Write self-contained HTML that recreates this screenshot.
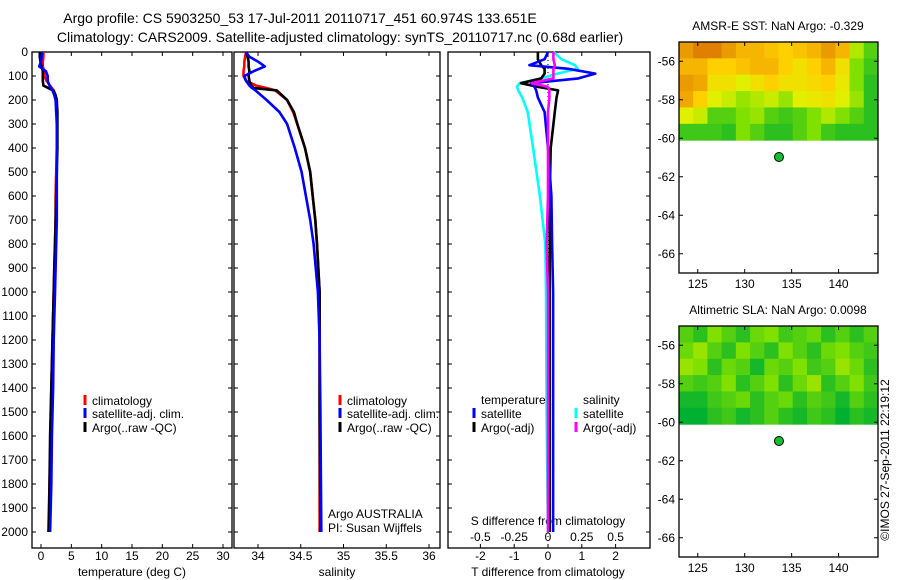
<!DOCTYPE html>
<html><head><meta charset="utf-8"><style>
html,body{margin:0;padding:0;background:#fff;}
svg{display:block;font-family:"Liberation Sans",sans-serif;}
text{fill:#000;}
</style></head><body>
<svg id="chart" width="900" height="580" viewBox="0 0 900 580" xmlns="http://www.w3.org/2000/svg">
<text x="300" y="23" font-size="14" text-anchor="middle">Argo profile: CS 5903250_53 17-Jul-2011 20110717_451 60.974S 133.651E</text>
<text x="340" y="42" font-size="14" text-anchor="middle">Climatology: CARS2009. Satellite-adjusted climatology: synTS_20110717.nc (0.68d earlier)</text>
<text transform="translate(889,460) rotate(-90)" font-size="12" text-anchor="middle">©IMOS 27-Sep-2011 22:19:12</text>
<g id="plots"></g>
</svg>
<script>
// ---------- data ----------
const tDepth = [0,20,40,60,80,100,120,140,160,180,200,250,300,400,500,600,700,800,900,1000,1200,1400,1600,1800,2000];
const tClim = [0.4,0.4,0.3,0.3,0.5,0.6,0.9,1.5,2.1,2.4,2.5,2.6,2.6,2.6,2.5,2.4,2.4,2.3,2.2,2.1,1.9,1.7,1.6,1.4,1.2];
const tSat = [0.2,0.1,0.0,-0.3,0.8,1.1,1.1,1.4,1.9,2.2,2.4,2.5,2.6,2.6,2.6,2.6,2.6,2.5,2.4,2.3,2.1,2.0,1.8,1.7,1.5];
const tArgo = [-0.2,-0.2,-0.1,0.1,0.3,0.3,0.3,0.4,2.0,2.4,2.6,2.7,2.7,2.7,2.6,2.5,2.4,2.3,2.2,2.1,1.9,1.7,1.5,1.4,1.3];
const sDepth = [0,20,40,60,80,100,120,140,150,160,200,250,300,400,500,600,700,800,1000,1200,1500,2000];
const sClim = [33.86,33.85,33.84,33.84,33.83,33.83,33.86,33.98,34.1,34.2,34.34,34.41,34.46,34.55,34.61,34.64,34.67,34.69,34.72,34.72,34.72,34.72];
const sSat = [33.86,33.9,34.0,34.08,33.95,33.84,33.86,33.9,33.93,33.97,34.1,34.25,34.34,34.43,34.51,34.56,34.61,34.65,34.70,34.72,34.73,34.74];
const sArgo = [33.86,33.88,33.89,33.89,33.9,33.89,33.9,33.92,33.95,34.22,34.34,34.42,34.46,34.55,34.61,34.64,34.67,34.69,34.72,34.72,34.72,34.73];
const dDepth = [0,30,55,70,90,110,130,145,160,190,250,400,600,800,1000,1500,2000];
const dTSat = [0,-0.1,-0.55,0.6,1.4,0.9,-0.5,-0.4,-0.35,-0.3,-0.1,0,0.1,0.12,0.15,0.15,0.15];
const dTArgo = [-0.3,-0.3,-0.2,-0.1,-0.1,-0.2,-0.8,-0.3,0.3,0.25,0.2,0.08,0.05,0.05,0.05,0.05,0.05];
const dSSat = [0.04,0.1,0.2,0.22,0.07,-0.05,-0.21,-0.23,-0.22,-0.19,-0.15,-0.11,-0.06,-0.02,-0.015,-0.01,0.0];
const dSArgo = [0.04,0.04,0.05,0.04,0.04,0.04,-0.12,0.0,0.01,0.01,0.0,0.0,0.0,-0.01,0.0,0.0,0.0];
const depthTicks = [0,100,200,300,400,500,600,700,800,900,1000,1100,1200,1300,1400,1500,1600,1700,1800,1900,2000];
const tempTicks = [0,5,10,15,20,25,30];
const salTicks = [34,34.5,35,35.5,36];
const salTickLabels = ["34","34.5","35","35.5","36"];
const tdTicks = [-2,-1,0,1,2];
const sdTicks = [-0.5,-0.25,0,0.25,0.5];
const sdTickLabels = ["-0.5","-0.25","0","0.25","0.5"];
const latTicks = [-56,-58,-60,-62,-64,-66];
const lonTicks = [125,130,135,140];
const argoLon = 133.651, argoLat = -60.974;
const sstGrid = [
[0.9,1,1,0.9,0.8,0.8,0.75,0.7,0.75,0.8,0.9,0.8,0.4,0.2],
[0.8,0.8,0.7,0.7,0.75,0.8,0.8,0.7,0.6,0.7,0.8,0.6,0.3,0.15],
[0.9,0.85,0.6,0.6,0.5,0.6,0.7,0.6,0.6,0.65,0.7,0.55,0.3,0.1],
[0.85,0.7,0.5,0.45,0.35,0.4,0.45,0.35,0.5,0.55,0.6,0.5,0.35,0.1],
[0.5,0.45,0.2,0.2,0.3,0.35,0.2,0.15,0.2,0.3,0.4,0.3,0.2,0.1],
[0.15,0.15,0.15,0.1,0.3,0.2,0.1,0.1,0.2,0.3,0.15,0.1,0.1,0.1]];
const slaGrid = [
[0.2,0.1,0.3,0.2,0.1,0.25,0.3,0.15,0.2,0.25,0.1,0.2,0.1,0.2],
[0.25,0.35,0.2,0.1,0.3,0.2,0.1,0.3,0.2,0.1,0.25,0.3,0.2,0.15],
[0.35,0.3,0.1,0.25,0.2,0.05,0.25,0.2,0.3,0.15,0.2,0.35,0.25,0.1],
[0.2,0.15,0.2,0.3,0.1,0.2,0.3,0.1,0.25,0.35,0.1,0.2,0.3,0.15],
[0.05,0.05,0.15,0.2,0.25,0.1,0.2,0.25,0.1,0.2,0.15,0.05,0.2,0.1],
[0.0,0.0,0.1,0.15,0.05,0.1,0.2,0.1,0.05,0.15,0.1,0.0,0.1,0.05]];

// ---------- helpers ----------
const NS="http://www.w3.org/2000/svg";
const root=document.getElementById('plots');
function mk(tag,attrs,parent){const e=document.createElementNS(NS,tag);for(const k in attrs)e.setAttribute(k,attrs[k]);(parent||root).appendChild(e);return e;}
function txt(s,x,y,opts,parent){const e=mk('text',Object.assign({x:x,y:y,'font-size':12},opts||{}),parent);e.textContent=s;return e;}
const TOP=52, BOT=548;
const yD = d => TOP + d*0.24;
function lin(d0,d1,p0,p1){return v=>p0+(v-d0)*(p1-p0)/(d1-d0);}
function frame(x0,x1,name){
  const r=mk('rect',{x:x0,y:TOP,width:x1-x0,height:BOT-TOP,fill:'none',stroke:'#000','stroke-width':1.3});
  
  
  depthTicks.forEach(d=>{
    mk('line',{x1:x0,x2:x0+4,y1:yD(d),y2:yD(d),stroke:'#000'});
    mk('line',{x1:x1,x2:x1-4,y1:yD(d),y2:yD(d),stroke:'#000'});
  });
}
function xticks(ticks,labels,sx,x0,x1,ly){
  ticks.forEach((t,i)=>{const x=sx(t);
    mk('line',{x1:x,x2:x,y1:BOT,y2:BOT-4,stroke:'#000'});
    mk('line',{x1:x,x2:x,y1:TOP,y2:TOP+4,stroke:'#000'});
    const l=txt(labels[i],x,ly,{'text-anchor':'middle'});
    
    
  });
}
function profile(vals,depths,sx,color,name,w){
  const p=mk('polyline',{points:vals.map((v,i)=>sx(v).toFixed(1)+','+yD(depths[i]).toFixed(1)).join(' '),fill:'none',stroke:color,'stroke-width':w||2.6,'stroke-linejoin':'round'});
  
  
}
function legendItem(x,y,color,label,name){
  const g=mk('g',{});
  
  
  mk('line',{x1:x,x2:x,y1:y-10,y2:y,stroke:color,'stroke-width':3},g);
  txt(label,x+7,y,{},g);
}

// ---------- panel 1: temperature ----------
const sxT=lin(0,30,41,223);
frame(32,232,'temperature-panel');
depthTicks.forEach(d=>{const l=txt(String(d),28,yD(d)+4,{'text-anchor':'end'});
  
  });
xticks(tempTicks,tempTicks.map(String),sxT,32,232,560);
txt('temperature (deg C)',132,576,{'text-anchor':'middle'});
profile(tClim,tDepth,sxT,'#f00','temperature-climatology-line');
profile(tArgo,tDepth,sxT,'#000','temperature-argo-line');
profile(tSat,tDepth,sxT,'#00f','temperature-satellite-line');
legendItem(85,405,'#f00','climatology','legend-climatology');
legendItem(85,418,'#00f','satellite-adj. clim.','legend-satellite');
legendItem(85,432,'#000','Argo(..raw -QC)','legend-argo');

// ---------- panel 2: salinity ----------
const sxS=lin(34,36,258,429);
frame(234,440,'salinity-panel');
xticks(salTicks,salTickLabels,sxS,234,440,560);
txt('salinity',337,576,{'text-anchor':'middle'});
profile(sClim,sDepth,sxS,'#f00','salinity-climatology-line');
profile(sArgo,sDepth,sxS,'#000','salinity-argo-line');
profile(sSat,sDepth,sxS,'#00f','salinity-satellite-line');
legendItem(340,405,'#f00','climatology','legend-climatology-2');
legendItem(340,418,'#00f','satellite-adj. clim.','legend-satellite-2');
legendItem(340,432,'#000','Argo(..raw -QC)','legend-argo-2');
txt('Argo AUSTRALIA',328,518,{});
txt('PI: Susan Wijffels',328,532,{});

// ---------- panel 3: differences ----------
const sxD=lin(0,1,548,581.8);
const sxSD=lin(0,0.25,548,581.8);
frame(448,650,'difference-panel');
xticks(tdTicks,tdTicks.map(String),sxD,448,650,560);
sdTicks.forEach((t,i)=>{const l=txt(sdTickLabels[i],sxSD(t),541,{'text-anchor':'middle'});
  
  });
txt('S difference from climatology',548,525,{'text-anchor':'middle'});
txt('T difference from climatology',548,576,{'text-anchor':'middle'});
mk('line',{x1:sxD(0),x2:sxD(0),y1:TOP,y2:BOT,stroke:'#000','stroke-dasharray':'1,3'});
profile(dSSat,dDepth,sxSD,'#0ff','s-diff-satellite-line');
profile(dTArgo,dDepth,sxD,'#000','t-diff-argo-line');
profile(dTSat,dDepth,sxD,'#00f','t-diff-satellite-line');
profile(dSArgo,dDepth,sxSD,'#f0f','s-diff-argo-line');
txt('temperature',481,404,{});
txt('salinity',583,404,{});
legendItem(474,418,'#00f','satellite','legend-t-satellite');
legendItem(474,432,'#000','Argo(-adj)','legend-t-argo');
legendItem(576,418,'#0ff','satellite','legend-s-satellite');
legendItem(576,432,'#f0f','Argo(-adj)','legend-s-argo');

// ---------- maps ----------
function colorOf(v){
  const st=[[0,[0,176,48]],[0.3,[128,224,0]],[0.5,[224,240,0]],[0.7,[255,208,0]],[1,[224,128,0]]];
  for(let i=1;i<st.length;i++){if(v<=st[i][0]){const a=st[i-1],b=st[i],f=(v-a[0])/(b[0]-a[0]);
    return 'rgb('+a[1].map((c,k)=>Math.round(c+(b[1][k]-c)*f)).join(',')+')';}}
  return 'rgb(224,128,0)';
}
function map(top,title,grid,name){
  const L=679,R=878,B=top+231;
  const sx=lin(123,144.2,L,R), sy=lin(-55,-67,top,B);
  const g=mk('g',{});
  
  
  const rows=grid.length, cols=grid[0].length;
  const latStep=5.1/rows, lonStep=21.2/cols;
  grid.forEach((row,r)=>row.forEach((v,c)=>{
    const x0=sx(123+c*lonStep), x1=sx(123+(c+1)*lonStep), y0=sy(-55-r*latStep), y1=sy(-55-(r+1)*latStep);
    const cell=mk('rect',{x:x0,y:y0,width:x1-x0+0.5,height:y1-y0+0.5,fill:colorOf(v)},g);
    
    
  }));
  mk('rect',{x:L,y:top,width:R-L,height:B-top,fill:'none',stroke:'#000','stroke-width':1.3},g);
  latTicks.forEach(t=>{const y=sy(t);
    mk('line',{x1:L,x2:L+4,y1:y,y2:y,stroke:'#000'},g);
    mk('line',{x1:R,x2:R-4,y1:y,y2:y,stroke:'#000'},g);
    txt(String(t),675,y+4,{'text-anchor':'end'},g);});
  lonTicks.forEach(t=>{const x=sx(t);
    mk('line',{x1:x,x2:x,y1:B,y2:B-4,stroke:'#000'},g);
    mk('line',{x1:x,x2:x,y1:top,y2:top+4,stroke:'#000'},g);
    txt(String(t),x,B+15,{'text-anchor':'middle'},g);});
  const dot=mk('circle',{cx:sx(argoLon),cy:sy(argoLat),r:4.5,fill:'#10c030',stroke:'#000','stroke-width':1},g);
  
  
  txt(title,778,top-12,{'text-anchor':'middle'},g);
}
map(42,'AMSR-E SST: NaN Argo: -0.329',sstGrid,'sst-map');
map(326,'Altimetric SLA: NaN Argo: 0.0098',slaGrid,'sla-map');
</script>
</body></html>
